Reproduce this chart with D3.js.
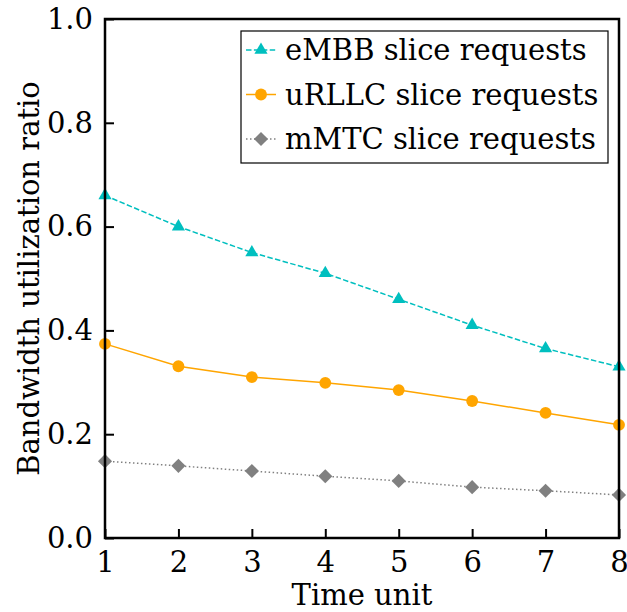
<!DOCTYPE html>
<html>
<head>
<meta charset="utf-8">
<script src="https://cdn.jsdelivr.net/npm/d3@7"></script>
<style>
  body { margin: 0; background: #fff; }
  text { font-family: "DejaVu Serif", serif; }
</style>
</head>
<body>
<svg id="chart" width="627" height="612"></svg>
<script>
const timeUnits = [1, 2, 3, 4, 5, 6, 7, 8];
const embb = [0.66, 0.60, 0.55, 0.51, 0.46, 0.41, 0.365, 0.33];
const urllc = [0.374, 0.331, 0.310, 0.299, 0.285, 0.264, 0.241, 0.218];
const mmtc = [0.148, 0.139, 0.129, 0.119, 0.110, 0.098, 0.091, 0.083];
const yTicks = [0.0, 0.2, 0.4, 0.6, 0.8, 1.0];

const series = [
    { name: "eMBB slice requests", values: embb, color: "#00bfbf", dash: "5.5,2.4", marker: d3.symbolTriangle, size: 75, rot: 0 },
    { name: "uRLLC slice requests", values: urllc, color: "#ffa500", dash: null, marker: d3.symbolCircle, size: 110, rot: 0 },
    { name: "mMTC slice requests", values: mmtc, color: "#808080", dash: "1.5,2.5", marker: d3.symbolSquare, size: 100, rot: 45 }
];

const margin = { left: 105, right: 8, top: 19, bottom: 74 };
const width = 627, height = 612;
const fontSize = "29px";
const svg = d3.select("#chart");

const x = d3.scaleLinear().domain([1, 8]).range([margin.left, width - margin.right]);
const y = d3.scaleLinear().domain([0, 1]).range([height - margin.bottom, margin.top]);

const plot = svg.append("g");

// lines + markers
const line = d3.line().x((d, i) => x(timeUnits[i])).y(d => y(d));
series.forEach(s => {
    plot.append("path")
        .attr("d", line(s.values))
        .attr("fill", "none")
        .attr("stroke", s.color)
        .attr("stroke-width", 1.5)
        .attr("stroke-dasharray", s.dash);
    plot.selectAll(null)
        .data(s.values)
        .join("path")
        .attr("d", d3.symbol().type(s.marker).size(s.size))
        .attr("transform", (d, i) => `translate(${x(timeUnits[i])},${y(d)}) rotate(${s.rot})`)
        .attr("fill", s.color);
});

// axes, ticks inward
const xAxis = svg.append("g")
    .attr("transform", `translate(0,${height - margin.bottom})`)
    .call(d3.axisBottom(x).tickValues(timeUnits).tickFormat(d3.format("d")).tickSizeInner(-9).tickSizeOuter(0).tickPadding(13));
const yAxis = svg.append("g")
    .attr("transform", `translate(${margin.left},0)`)
    .call(d3.axisLeft(y).tickValues(yTicks).tickFormat(d3.format(".1f")).tickSizeInner(-9).tickSizeOuter(0).tickPadding(12));

[xAxis, yAxis].forEach(a => {
    a.select(".domain").remove();
    a.selectAll(".tick line").attr("stroke", "#000").attr("stroke-width", 2);
    a.selectAll(".tick text").attr("fill", "#000").style("font-size", fontSize).style("font-family", "DejaVu Serif");
});

// frame
svg.append("rect")
    .attr("x", margin.left).attr("y", margin.top)
    .attr("width", width - margin.right - margin.left)
    .attr("height", height - margin.bottom - margin.top)
    .attr("fill", "none").attr("stroke", "#000").attr("stroke-width", 2.5);

// axis labels
svg.append("text")
    .attr("x", (margin.left + width - margin.right) / 2)
    .attr("y", 605)
    .attr("text-anchor", "middle")
    .style("font-size", fontSize)
    .text("Time unit");
svg.append("text")
    .attr("transform", `translate(39,${(margin.top + height - margin.bottom) / 2}) rotate(-90)`)
    .attr("text-anchor", "middle")
    .style("font-size", fontSize)
    .text("Bandwidth utilization ratio");

// legend
const legend = svg.append("g").attr("transform", "translate(241,31)");
legend.append("rect")
    .attr("width", 367).attr("height", 132)
    .attr("fill", "#fff").attr("stroke", "#000").attr("stroke-width", 1.2);
series.forEach((s, i) => {
    const g = legend.append("g").attr("transform", `translate(0,${19 + i * 44.5})`);
    g.append("line").attr("x1", 5).attr("x2", 35).attr("y1", 0).attr("y2", 0)
        .attr("stroke", s.color).attr("stroke-width", 1.5).attr("stroke-dasharray", s.dash);
    g.append("path").attr("d", d3.symbol().type(s.marker).size(s.size))
        .attr("transform", `translate(20,0) rotate(${s.rot})`).attr("fill", s.color);
    g.append("text").attr("x", 44).attr("y", 10).style("font-size", fontSize).text(s.name);
});
</script>
</body>
</html>
